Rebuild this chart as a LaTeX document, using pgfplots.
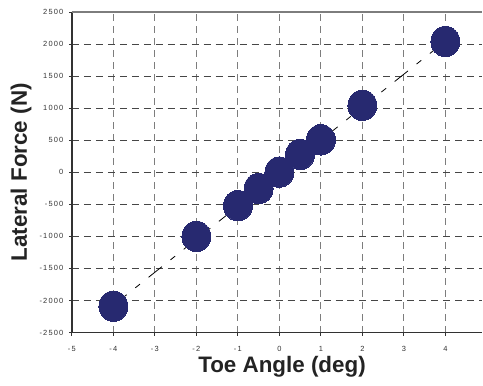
\documentclass[border=0pt]{standalone}
\usepackage{fontspec}
\setmainfont{Liberation Sans}
\newfontfamily\tickfont[LetterSpace=16]{Liberation Sans}
\usepackage{pgfplots}
\pgfplotsset{compat=1.18}
\definecolor{marknavy}{RGB}{39,41,112}
\definecolor{gridh}{RGB}{70,70,70}
\definecolor{gridv}{RGB}{125,125,125}
\definecolor{axisdark}{RGB}{50,50,50}
\definecolor{labeltext}{RGB}{35,35,35}

\begin{document}
\begin{tikzpicture}
\begin{axis}[
  scale only axis, width=411bp, height=321bp,
  xmin=-5, xmax=4.89, ymin=-2500, ymax=2500,
  axis x line*=bottom, axis y line*=left,
  axis line style={axisdark, line width=1.4bp},
  xtick={-5,-4,...,4},
  xticklabels={-5,-4,-3,-2,-1,0,1,2,3,4},
  ytick={-2500,-2000,...,2500},
  yticklabels={-2500,-2000,-1500,-1000,-500,0,500,1000,1500,2000,2500},
  tick align=outside, major tick length=3bp,
  tick style={axisdark, line width=0.8bp},
  ticklabel style={font=\tickfont\fontsize{7.5}{8}\selectfont, text=axisdark},
  xticklabel style={yshift=-7bp},
  yticklabel style={xshift=-2bp},
  x grid style={gridv, line width=1bp, dash pattern=on 7bp off 5bp},
  y grid style={gridh, line width=1bp, dash pattern=on 7bp off 5bp},
  grid=major,
  xlabel={Toe Angle (deg)},
  ylabel={Lateral Force (N)},
  label style={font=\bfseries\fontsize{22.5}{26}\selectfont, text=labeltext},
  xlabel style={at={(axis description cs:0.512,0)}, anchor=north, yshift=-20bp},
  ylabel style={at={(axis description cs:0,0.5)}, anchor=south, yshift=37bp},
  clip=false,
]
% measured lateral force against toe angle
\addplot[only marks, color=marknavy, mark=*, mark size=14.5bp,
  mark options={fill=marknavy, draw=marknavy, line width=0pt, yscale=1.05}]
  coordinates {
    (-4,-2090) (-2,-1000) (-1,-522) (-0.5,-254) (0,3)
    (0.5,278) (1,506) (2,1044) (4,2040)
  };
% linear trend line
\addplot[black, line width=0.8bp,
  dash pattern=on 17bp off 11bp on 6bp off 11bp]
  coordinates {(-4,-2075) (4,2045)};
\end{axis}
\draw[gridv, line width=1.4bp] (0,321bp) -- (411bp,321bp);
\path[use as bounding box] (-72bp,-53bp) rectangle (411bp,333bp);
\end{tikzpicture}
\end{document}
